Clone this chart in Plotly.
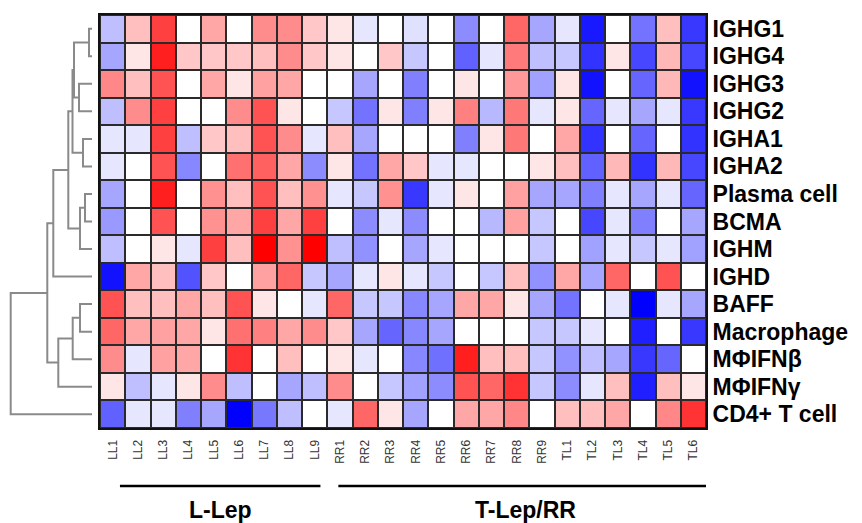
import plotly.graph_objects as go

# ---------------- data ----------------
samples = ["LL1", "LL2", "LL3", "LL4", "LL5", "LL6", "LL7", "LL8", "LL9",
           "RR1", "RR2", "RR3", "RR4", "RR5", "RR6", "RR7", "RR8", "RR9",
           "TL1", "TL2", "TL3", "TL4", "TL5", "TL6"]

genes = ["IGHG1", "IGHG4", "IGHG3", "IGHG2", "IGHA1", "IGHA2", "Plasma cell",
         "BCMA", "IGHM", "IGHD", "BAFF", "Macrophage", "MΦIFNβ", "MΦIFNγ",
         "CD4+ T cell"]

IGHG1 = [-0.25, 0.25, 0.75, 0, 0.35, 0, 0.45, 0.45, 0.22, 0.1, -0.1, 0, -0.12, 0, -0.45, 0, 0.6, -0.35, -0.1, -0.9, 0, -0.55, 0.25, -0.78]
IGHG4 = [-0.35, 0.1, 0.88, 0.22, 0.22, 0.22, 0.25, 0.45, 0.22, 0.1, 0, 0.22, -0.22, 0, -0.62, -0.1, 0.52, -0.25, -0.22, -0.8, 0.1, -0.72, 0.28, -0.72]
IGHG3 = [0.47, 0.25, 0.68, 0, 0.35, 0.1, 0.37, 0.35, 0, 0, -0.35, 0, -0.5, 0, 0.1, 0, 0.4, -0.37, 0.1, -0.93, 0, -0.6, 0.28, -0.93]
IGHG2 = [-0.25, 0.45, 0.75, 0, 0, 0.45, 0.68, 0.1, 0, -0.22, -0.55, 0.1, -0.5, 0.1, 0.5, -0.28, 0.53, -0.1, 0.1, -0.6, -0.1, -0.35, -0.1, -0.78]
IGHA1 = [-0.1, -0.1, 0.75, -0.25, 0.22, 0.25, 0.68, 0.45, -0.1, 0.25, -0.35, 0, 0, 0, -0.5, 0.1, 0.53, 0, 0.35, -0.8, 0, -0.6, 0, -0.8]
IGHA2 = [-0.1, 0, 0.68, -0.47, 0, 0.56, 0.62, 0.35, -0.45, 0.1, -0.55, 0.35, 0.22, -0.1, -0.1, 0, 0, 0.1, 0.25, -0.62, 0.28, -0.8, 0.28, -0.72]
PLASMA = [-0.35, 0, 0.88, 0, 0.43, 0.25, 0.68, 0.25, 0.43, -0.1, -0.22, 0.43, -0.78, -0.1, 0.1, 0, 0.37, -0.35, -0.35, -0.5, -0.1, -0.35, -0.1, -0.6]
BCMA = [-0.4, 0, 0.68, 0, 0.43, 0.35, 0.75, 0.35, 0.75, 0, -0.45, -0.1, -0.45, 0, 0, -0.28, 0.37, -0.22, 0, -0.72, -0.1, -0.5, 0, -0.35]
IGHM = [-0.25, 0, 0.1, -0.1, 0.75, 0.25, 1.0, 0.43, 1.0, -0.25, -0.43, 0, -0.35, -0.1, 0, 0, 0, -0.22, 0, -0.37, -0.1, -0.22, -0.1, -0.37]
IGHD = [-0.93, 0.35, 0.25, -0.68, 0.22, 0, 0.37, 0.6, -0.22, -0.35, -0.1, 0.1, -0.1, -0.22, 0, -0.22, 0.25, -0.43, 0.35, -0.35, 0.6, 0, 0.68, 0]
BAFF = [0.68, 0.25, 0.25, 0.35, 0.25, 0.68, 0.1, 0, -0.1, 0.6, -0.22, -0.22, -0.47, -0.35, 0.35, 0.35, 0.1, -0.35, -0.55, 0, -0.1, -1.0, -0.1, -0.35]
MACRO = [0.6, 0.35, 0.37, 0.35, 0.1, 0.56, 0.5, 0.35, 0.45, 0.22, -0.35, -0.6, -0.47, -0.35, 0, 0, 0, -0.22, -0.22, -0.1, 0, -0.88, 0, -0.78]
IFNB = [0.45, -0.1, 0.37, 0.35, 0, 0.8, 0, 0.25, 0, 0.1, -0.1, 0, -0.47, -0.56, 0.88, 0.25, 0.25, -0.22, -0.43, -0.25, -0.35, -0.78, -0.6, 0]
IFNG = [0.1, -0.25, -0.1, 0.1, 0.45, -0.25, 0, -0.35, -0.25, 0.45, 0, -0.22, -0.37, -0.45, 0.68, 0.6, 0.8, -0.22, -0.45, -0.1, 0.25, -0.88, 0.25, 0.1]
CD4T = [-0.62, -0.1, -0.1, -0.5, -0.35, -1.0, -0.53, -0.25, 0, -0.1, 0.6, 0.1, -0.35, 0, 0.35, 0.35, 0.47, 0, 0.25, 0.25, 0.35, 0, 0.47, 0.8]

values = [IGHG1, IGHG4, IGHG3, IGHG2, IGHA1, IGHA2, PLASMA, BCMA, IGHM,
          IGHD, BAFF, MACRO, IFNB, IFNG, CD4T]

# row dendrogram: (left, right, height); leaves are 0..14, clusters 15+
linkage = [(0, 1, 3), (2, 3, 13), (15, 16, 18), (4, 5, 9), (17, 18, 19.5),
           (6, 7, 7), (20, 8, 12), (19, 21, 23.7), (22, 9, 38.7),
           (10, 11, 12), (24, 12, 19.3), (25, 13, 33.7), (23, 26, 44.7),
           (27, 14, 81.3)]

groups = ["L-Lep", "T-Lep/RR"]

# ---------------- figure ----------------
# The page body has an 8px margin, so the figure is offset by 8px.
OFF = 8
W, H = 862 - OFF, 523 - OFF
FONT = "Arial, Liberation Sans, sans-serif"


def px(xr):
    return (xr - OFF) / W


def py(yr):
    return 1 - (yr - OFF) / H


fig = go.Figure()

fig.add_trace(go.Heatmap(
    z=values,
    x=list(range(len(samples))),
    y=list(range(len(genes))),
    zmin=-1, zmax=1,
    colorscale=[[0, "rgb(0,0,255)"], [0.5, "rgb(255,255,255)"], [1, "rgb(255,0,0)"]],
    showscale=False, xgap=2, ygap=2,
    hovertemplate="%{y}<br>%{x}<br>%{z}<extra></extra>",
))

# dendrogram from linkage
n = len(genes)
pos = {i: float(i) for i in range(n)}
hgt = {i: 0.0 for i in range(n)}
dx, dy = [], []
for k, (a, b, h) in enumerate(linkage):
    cid = n + k
    dx += [hgt[a], h, h, hgt[b], None]
    dy += [pos[a], pos[a], pos[b], pos[b], None]
    pos[cid] = (pos[a] + pos[b]) / 2
    hgt[cid] = h
fig.add_trace(go.Scatter(x=dx, y=dy, xaxis="x2", yaxis="y", mode="lines",
                         line=dict(color="#8a8a8a", width=2), hoverinfo="skip",
                         showlegend=False))

fig.update_layout(
    width=W, height=H,
    margin=dict(l=0, r=0, t=0, b=0),
    paper_bgcolor="white", plot_bgcolor="white",
    showlegend=False,
    xaxis=dict(domain=[px(100), px(706)], range=[-0.5, len(samples) - 0.5],
               tickvals=list(range(len(samples))), ticktext=samples,
               tickangle=-90, ticks="outside", ticklen=5,
               tickcolor="rgba(0,0,0,0)",
               tickfont=dict(family=FONT, size=12, color="#333333"),
               showgrid=False, zeroline=False, showline=True,
               linecolor="#111111", linewidth=2, mirror=True, anchor="y"),
    yaxis=dict(domain=[py(428), py(15)], range=[len(genes) - 0.5, -0.5],
               tickvals=list(range(len(genes))), ticktext=genes,
               side="right", ticks="",
               tickfont=dict(family=FONT, size=23, color="black", weight="bold"),
               showgrid=False, zeroline=False, showline=True,
               linecolor="#111111", linewidth=2, mirror=True, anchor="x"),
    xaxis2=dict(domain=[0, px(92)], range=[92 - OFF, 0], visible=False,
                anchor="y", showgrid=False, zeroline=False),
)

# dark background behind the heatmap so the cell gaps read as borders
fig.add_shape(type="rect", xref="x domain", yref="y domain", x0=0, x1=1,
              y0=0, y1=1, layer="below", line=dict(width=0),
              fillcolor="#2a2a2a")

line_y = py(486)
text_y = py(510)
starts = [0.29, 8.94]
ends = [8.23, 23.79]
for g, s, e in zip(groups, starts, ends):
    fig.add_shape(type="line", xref="x", yref="paper", x0=s, x1=e,
                  y0=line_y, y1=line_y, line=dict(color="black", width=2.5))
    fig.add_annotation(text=g, xref="x", yref="paper", x=(s + e) / 2, y=text_y,
                       showarrow=False, xanchor="center", yanchor="middle",
                       font=dict(family=FONT, size=23, color="black", weight="bold"))

fig.write_html("out.html")
